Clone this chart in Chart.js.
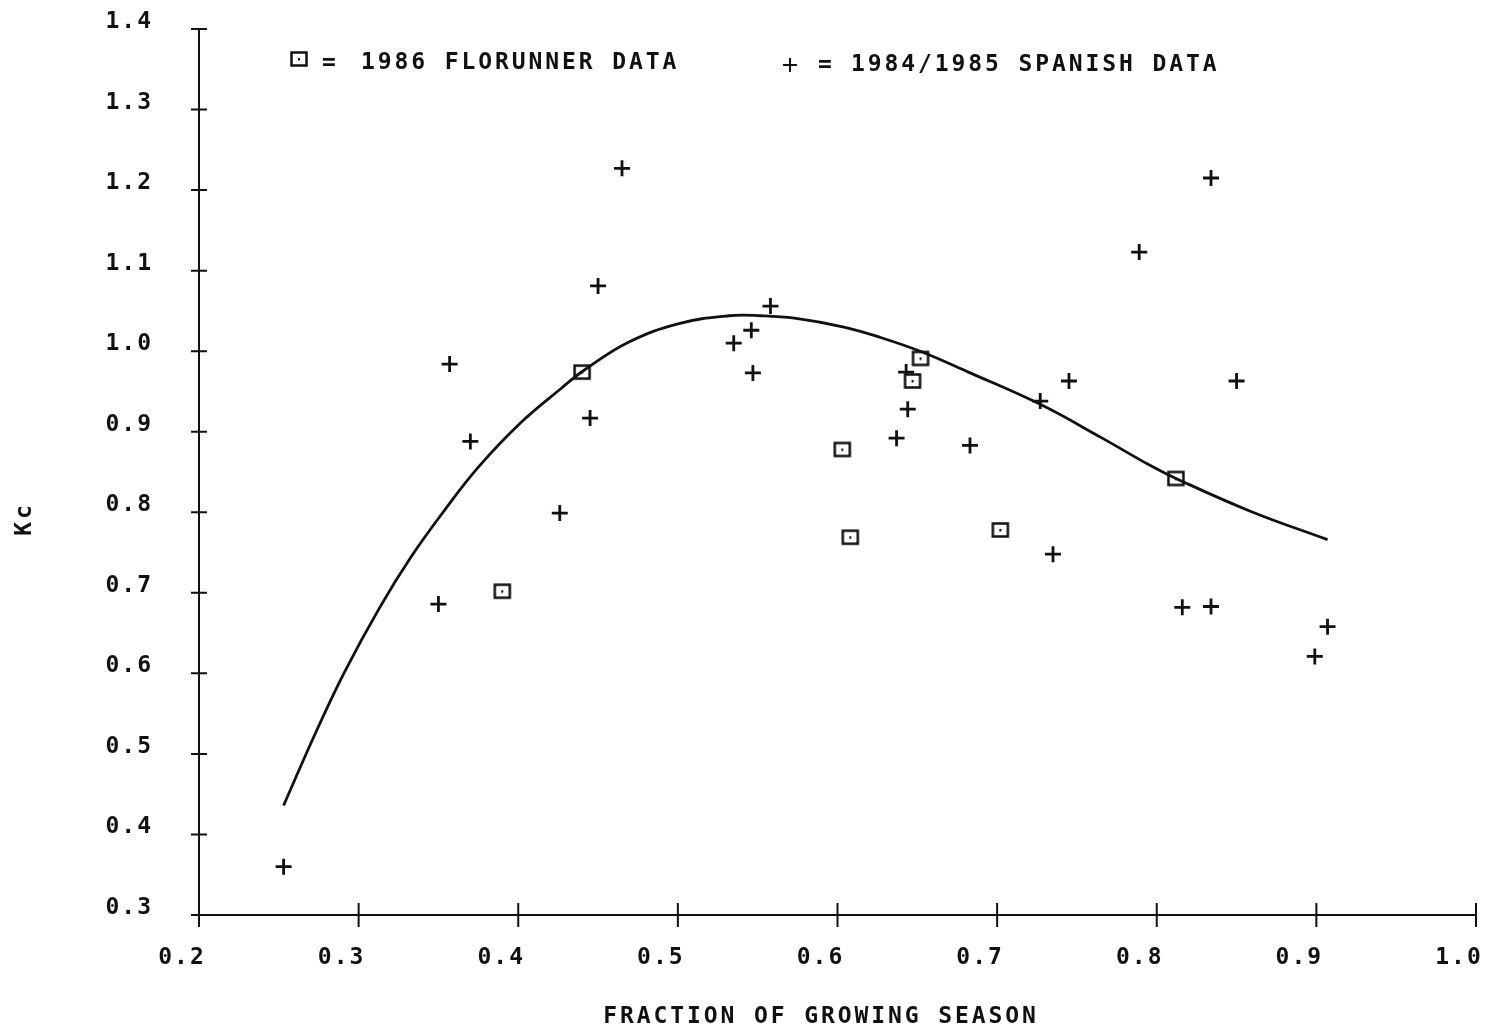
<!DOCTYPE html>
<html>
<head>
<meta charset="utf-8">
<title>Kc vs fraction of growing season</title>
<script src="https://cdn.jsdelivr.net/npm/chart.js@4.4.1/dist/chart.umd.min.js"></script>
<style>
  html, body { margin: 0; padding: 0; background: #fff; }
  #wrap { position: relative; width: 1487px; height: 1033px; }
</style>
</head>
<body>
<div id="wrap"><canvas id="kcChart"></canvas></div>
<script>
// 1986 Florunner data (squares)
const florunnerX = [0.390, 0.440, 0.603, 0.608, 0.647, 0.652, 0.702, 0.812];
const florunnerY = [0.702, 0.974, 0.878, 0.769, 0.963, 0.991, 0.778, 0.842];

// 1984/1985 Spanish data (plus signs)
const spanishX = [0.253, 0.350, 0.357, 0.370, 0.426, 0.445, 0.450, 0.465, 0.535, 0.546, 0.547, 0.558, 0.637,
                  0.643, 0.644, 0.683, 0.727, 0.735, 0.745, 0.789, 0.816, 0.834, 0.834, 0.850, 0.899, 0.907];
const spanishY = [0.360, 0.686, 0.984, 0.888, 0.799, 0.917, 1.081, 1.227, 1.010, 1.026, 0.973, 1.056, 0.892,
                  0.974, 0.928, 0.883, 0.938, 0.748, 0.963, 1.123, 0.682, 0.683, 1.215, 0.963, 0.621, 0.658];

// fitted Kc curve
const curveX = [0.253, 0.273, 0.291, 0.313, 0.333, 0.354, 0.375, 0.402, 0.427, 0.441, 0.469, 0.500, 0.532,
                0.552, 0.573, 0.604, 0.627, 0.653, 0.682, 0.727, 0.765, 0.796, 0.812, 0.859, 0.907];
const curveY = [0.436, 0.526, 0.601, 0.681, 0.745, 0.803, 0.856, 0.912, 0.954, 0.976, 1.011, 1.034, 1.044,
                1.044, 1.041, 1.030, 1.017, 0.999, 0.974, 0.934, 0.893, 0.858, 0.842, 0.801, 0.766];

const xTickValues = [0.2, 0.3, 0.4, 0.5, 0.6, 0.7, 0.8, 0.9, 1.0];
const yTickValues = [0.3, 0.4, 0.5, 0.6, 0.7, 0.8, 0.9, 1.0, 1.1, 1.2, 1.3, 1.4];

const INK = '#111';
const FONT = '"DejaVu Sans Mono", "Liberation Mono", monospace';

function toPoints(xs, ys) {
    return xs.map((x, i) => ({ x: x, y: ys[i] }));
}

// square marker with a dot in the middle, like the plotter symbol
function makeSquareMarker() {
    const c = document.createElement('canvas');
    c.width = 20;
    c.height = 18;
    const g = c.getContext('2d');
    g.fillStyle = '#fff';
    g.fillRect(2.5, 2.5, 15, 13);
    g.strokeStyle = INK;
    g.lineWidth = 2.5;
    g.strokeRect(2.5, 2.5, 15, 13);
    g.fillStyle = INK;
    g.fillRect(9, 8, 2, 2.5);
    return c;
}
const squareMarker = makeSquareMarker();

const plotterPlugin = {
    id: 'plotter',
    beforeUpdate(chart) { chart.ctx.letterSpacing = '2px'; },
    beforeDraw(chart) { chart.ctx.letterSpacing = '2px'; },
    afterDraw(chart) {
        const ctx = chart.ctx;
        const xs = chart.scales.x;
        const ys = chart.scales.y;
        const area = chart.chartArea;

        ctx.save();
        ctx.strokeStyle = INK;
        ctx.lineWidth = 2;
        ctx.beginPath();
        xs.ticks.forEach(t => {
            const px = xs.getPixelForValue(t.value);
            ctx.moveTo(px, area.bottom - 12);
            ctx.lineTo(px, area.bottom + 12);
        });
        ys.ticks.forEach(t => {
            const py = ys.getPixelForValue(t.value);
            ctx.moveTo(area.left - 8, py);
            ctx.lineTo(area.left + 8, py);
        });
        ctx.stroke();

        // legend inside the plot
        ctx.letterSpacing = '2.9px';
        ctx.font = 'bold 23px ' + FONT;
        ctx.fillStyle = INK;
        ctx.textBaseline = 'middle';
        ctx.textAlign = 'left';
        ctx.drawImage(squareMarker, 299 - 10, 59 - 9);
        ctx.fillText('=', 322, 63);
        ctx.fillText('1986 FLORUNNER DATA', 361, 63);
        Chart.helpers.drawPoint(ctx, { pointStyle: 'cross', radius: 7, borderWidth: 2.8 }, 790, 65);
        ctx.fillText('=', 818, 65);
        ctx.fillText('1984/1985 SPANISH DATA', 851, 65);

        // axis titles
        ctx.textAlign = 'center';
        ctx.fillText('FRACTION OF GROWING SEASON', 821, 1017);
        ctx.translate(25, 519);
        ctx.rotate(-Math.PI / 2);
        ctx.fillText('Kc', 0, 0);
        ctx.restore();
    }
};

const chart = new Chart(document.getElementById('kcChart'), {
    type: 'scatter',
    data: {
        datasets: [
            {
                label: 'fit',
                type: 'line',
                data: toPoints(curveX, curveY),
                borderColor: INK,
                borderWidth: 2.8,
                pointRadius: 0,
                fill: false,
                tension: 0.4
            },
            {
                label: '1986 FLORUNNER DATA',
                data: toPoints(florunnerX, florunnerY),
                pointStyle: squareMarker,
                pointRadius: 8
            },
            {
                label: '1984/1985 SPANISH DATA',
                data: toPoints(spanishX, spanishY),
                pointStyle: 'cross',
                pointRadius: 8,
                borderWidth: 2.8,
                borderColor: INK
            }
        ]
    },
    options: {
        responsive: true,
        maintainAspectRatio: false,
        animation: false,
        events: [],
        layout: { padding: { top: 29, right: 11, bottom: 0, left: 0 } },
        plugins: {
            legend: { display: false },
            tooltip: { enabled: false }
        },
        scales: {
            x: {
                type: 'linear',
                min: 0.2,
                max: 1.0,
                afterBuildTicks: s => { s.ticks = xTickValues.map(v => ({ value: v })); },
                afterFit: s => { s.height = 118; s.paddingLeft = 0; s.paddingRight = 0; },
                grid: { display: true, drawOnChartArea: false, drawTicks: false },
                border: { display: true, color: INK, width: 2 },
                ticks: {
                    color: INK,
                    font: { family: FONT, size: 23, weight: 'bold' },
                    padding: 29,
                    labelOffset: -17,
                    maxRotation: 0,
                    callback: v => v.toFixed(1)
                }
            },
            y: {
                type: 'linear',
                min: 0.3,
                max: 1.4,
                afterBuildTicks: s => { s.ticks = yTickValues.map(v => ({ value: v })); },
                afterFit: s => { s.width = 199; s.paddingTop = 0; s.paddingBottom = 0; },
                grid: { display: true, drawOnChartArea: false, drawTicks: false },
                border: { display: true, color: INK, width: 2 },
                ticks: {
                    color: INK,
                    font: { family: FONT, size: 23, weight: 'bold' },
                    padding: 46,
                    labelOffset: -7,
                    callback: v => v.toFixed(1)
                }
            }
        }
    },
    plugins: [plotterPlugin]
});
</script>
</body>
</html>
